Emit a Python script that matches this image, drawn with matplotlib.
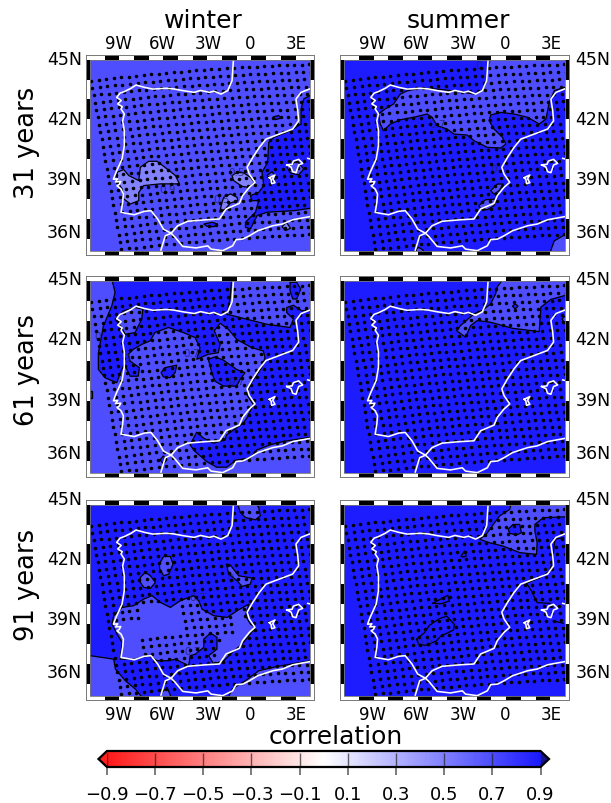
import matplotlib
matplotlib.use('Agg')
import matplotlib.pyplot as plt
import numpy as np
from matplotlib.colors import LinearSegmentedColormap, Normalize
from matplotlib.cm import ScalarMappable
from matplotlib.patches import Polygon, Rectangle
from matplotlib.path import Path

plt.rcParams['font.family'] = 'DejaVu Sans'

# tick labels and positions on the map
lon_labels = ['9W', '6W', '3W', '0', '3E']
lon_ticks = [-8.93, -5.95, -2.87, -0.07, 3.0]
lat_labels = ['45N', '42N', '39N', '36N']
lat_ticks = [44.95, 41.86, 38.73, 35.97]
cbar_ticks = [-0.9, -0.7, -0.5, -0.3, -0.1, 0.1, 0.3, 0.5, 0.7, 0.9]
cbar_labels = ['\u22120.9', '\u22120.7', '\u22120.5', '\u22120.3', '\u22120.1', '0.1', '0.3', '0.5', '0.7', '0.9']
seasons = ['winter', 'summer']
periods = ['31 years', '61 years', '91 years']

# coast lines (lon, lat)
iberia = [(-1.19, 44.86), (-1.28, 43.83), (-1.57, 43.31), (-2.02, 43.13), (-2.50, 43.28), (-2.80, 43.22),
          (-3.40, 43.32), (-3.81, 43.22), (-4.59, 43.31), (-5.20, 43.40), (-5.71, 43.43), (-6.60, 43.39),
          (-7.16, 43.48), (-7.72, 43.60), (-8.06, 43.43), (-8.51, 43.26), (-8.80, 43.18), (-9.02, 42.96),
          (-8.72, 42.80), (-8.95, 42.62), (-8.65, 42.48), (-8.73, 42.36), (-8.51, 42.10), (-8.62, 41.75),
          (-8.51, 41.24), (-8.51, 40.46), (-8.66, 39.77), (-9.07, 39.07), (-9.24, 38.72), (-8.95, 38.74),
          (-9.10, 38.58), (-8.75, 38.60), (-8.85, 38.45), (-9.00, 38.38), (-8.73, 38.21), (-8.57, 37.95),
          (-8.62, 37.52), (-8.73, 37.00), (-7.84, 36.88), (-7.16, 37.06), (-6.72, 37.09), (-6.27, 36.66),
          (-5.89, 36.14), (-5.37, 35.92), (-4.93, 36.31), (-4.26, 36.54), (-3.03, 36.62), (-2.13, 36.66),
          (-1.68, 37.18), (-0.79, 37.47), (-0.57, 37.87), (-0.12, 38.30), (0.26, 38.56), (-0.12, 38.99),
          (-0.27, 39.34), (0.11, 39.85), (0.55, 40.37), (1.00, 40.80), (1.90, 41.06), (2.79, 41.32),
          (3.19, 41.75), (3.13, 42.27), (3.01, 42.87), (3.35, 43.22), (3.91, 43.39)]
africa = [(-6.05, 35.05), (-5.76, 35.79), (-5.37, 35.92), (-5.15, 35.76), (-4.59, 35.24), (-3.70, 35.16),
          (-2.91, 35.27), (-2.69, 35.10), (-1.91, 35.02), (-1.24, 35.27), (-1.01, 35.59), (-0.55, 35.62),
          (-0.12, 35.79), (0.44, 36.05), (1.45, 36.31), (2.10, 36.40), (2.79, 36.62), (3.91, 36.78)]
mallorca = [(2.39, 39.46), (2.75, 39.49), (2.84, 39.66), (3.19, 39.75), (3.46, 39.54), (3.19, 39.46),
            (3.01, 39.06), (2.79, 39.11), (2.68, 39.35), (2.39, 39.46)]
ibiza = [(1.22, 38.80), (1.60, 38.94), (1.45, 38.75), (1.60, 38.54), (1.38, 38.49), (1.34, 38.71), (1.22, 38.80)]
menorca = [(3.80, 39.80), (3.95, 39.77)]

# winter 31
w31_east = [(3.93, 43.05), (3.53, 42.88), (3.35, 42.36), (3.35, 41.58), (2.64, 41.24), (1.52, 40.89),
            (1.18, 40.63), (1.11, 39.60), (0.73, 39.08), (0.85, 38.39), (0.51, 38.04), (-0.05, 37.87),
            (0.06, 37.61), (0.51, 37.61), (0.29, 37.01), (-0.38, 36.49), (-0.38, 36.23), (-0.05, 36.14),
            (0.40, 36.83), (1.07, 37.01), (2.86, 37.09), (3.93, 37.21), (4.6, 37.21), (4.6, 43.05)]
w31_port = [(-9.00, 39.08), (-8.55, 39.22), (-8.21, 38.91), (-7.54, 38.65), (-7.43, 39.34), (-6.87, 39.65),
            (-6.31, 39.65), (-5.64, 39.25), (-5.08, 38.91), (-4.81, 38.48), (-6.09, 38.48), (-7.21, 38.39),
            (-7.54, 38.04), (-7.54, 37.61), (-8.10, 37.44), (-8.55, 37.70), (-8.66, 38.22), (-8.95, 38.56)]
w31_val = [(-1.28, 38.91), (-0.94, 39.08), (-0.50, 39.05), (-0.05, 38.82), (0.22, 38.56), (-0.16, 38.30),
           (-0.61, 38.35), (-1.17, 38.65)]
w31_mur = [(-1.84, 37.78), (-1.39, 37.96), (-0.94, 37.78), (-0.90, 37.61), (-1.39, 37.49), (-1.73, 37.18),
           (-2.11, 37.01), (-1.95, 37.53)]
w31_alb = [(-3.18, 36.40), (-2.62, 36.49), (-2.24, 36.40), (-2.51, 36.26), (-2.96, 36.28)]
w31_cat = [(1.47, 41.95), (1.85, 42.02), (2.01, 41.88), (1.63, 41.81)]
w31_alg = [(2.08, 36.26), (2.37, 36.49), (2.64, 36.18), (2.30, 36.06)]
w31_mal = [(2.41, 39.34), (3.08, 39.68), (3.53, 39.25), (3.19, 38.94), (2.63, 39.05)]
w31_ibi = [(1.07, 38.91), (1.40, 39.11), (1.70, 38.82), (1.40, 38.56)]

# summer 31
s31_north = [(-1.19, 45.2), (-1.19, 44.91), (-1.28, 43.83), (-1.57, 43.31), (-2.13, 43.13), (-3.14, 43.26),
             (-4.59, 43.39), (-5.71, 43.43), (-6.56, 43.31), (-7.05, 43.13), (-7.50, 42.62), (-8.06, 42.36),
             (-8.51, 42.10), (-8.39, 41.58), (-8.17, 41.23), (-7.72, 41.58), (-7.05, 41.80), (-6.16, 41.93),
             (-5.26, 42.10), (-4.93, 41.93), (-4.59, 41.49), (-3.92, 41.32), (-3.47, 41.06), (-2.58, 41.01),
             (-2.13, 40.72), (-1.24, 40.37), (-0.34, 40.34), (0.00, 40.54), (-0.23, 40.89), (-0.79, 41.32),
             (-1.12, 41.75), (-1.01, 42.05), (-0.34, 42.18), (0.55, 42.10), (1.45, 41.93), (2.23, 41.58),
             (2.68, 41.84), (2.90, 42.70), (3.24, 43.31), (3.91, 43.48), (4.6, 43.48), (4.6, 45.2)]
s31_val = [(-1.01, 38.13), (-0.57, 38.47), (-0.16, 38.47), (-0.45, 38.13), (-0.79, 37.95)]
s31_mur = [(-1.80, 37.35), (-1.35, 37.66), (-0.68, 37.69), (-0.79, 37.35), (-1.24, 37.14), (-1.68, 37.18)]
s31_alg = [(3.01, 34.6), (3.01, 35.05), (3.24, 35.53), (3.91, 35.83), (4.6, 35.83), (4.6, 34.6)]
s31_mor = [(-5.98, 34.8), (-5.98, 35.10), (-5.82, 35.19), (-5.53, 35.05), (-5.53, 34.8)]

# winter 61
w61_band = [(-9.35, 45.00), (-9.13, 44.31), (-9.35, 43.62), (-9.91, 42.58), (-10.25, 41.20), (-10.25, 40.34),
            (-9.80, 39.91), (-9.02, 39.65), (-8.68, 40.34), (-8.50, 40.60), (-8.12, 39.99), (-7.57, 39.99),
            (-7.50, 40.43), (-8.12, 40.77), (-8.24, 41.12), (-7.90, 41.38), (-7.34, 41.63), (-6.78, 41.81),
            (-6.45, 42.24), (-5.55, 42.50), (-4.55, 42.24), (-3.76, 41.98), (-3.43, 41.46), (-3.65, 40.86),
            (-2.87, 41.12), (-2.20, 41.20), (-2.08, 41.63), (-2.47, 42.33), (-2.08, 42.72), (-1.53, 42.41),
            (-0.97, 41.89), (0.04, 41.46), (0.82, 41.29), (0.93, 40.94), (0.71, 40.43), (-0.07, 39.56),
            (-0.29, 39.04), (0.15, 38.53), (-0.29, 37.83), (-0.52, 37.58), (-1.64, 36.97), (-1.75, 36.71),
            (-2.53, 36.54), (-3.20, 36.80), (-3.65, 37.11), (-4.10, 36.45), (-3.76, 36.11), (-2.98, 35.59),
            (-2.31, 35.30), (-1.64, 35.30), (-0.97, 35.68), (-0.07, 35.76), (0.38, 36.19), (1.27, 36.45),
            (2.17, 36.63), (4.40, 36.89), (4.40, 45.00)]
w61_ne = [(-1.30, 45.00), (-1.41, 43.97), (-1.64, 43.19), (-0.30, 42.93), (1.05, 42.67), (2.61, 42.50),
          (2.84, 42.93), (2.39, 43.27), (2.39, 43.53), (2.84, 43.65), (3.40, 43.36), (4.40, 43.45), (4.40, 45.00)]
w61_gal = [(-9.13, 42.93), (-8.57, 43.36), (-7.79, 43.53), (-7.27, 43.45), (-7.34, 42.93), (-7.79, 42.24),
           (-8.46, 42.15), (-8.68, 42.50)]
w61_top = [(2.61, 44.83), (3.06, 44.83), (3.33, 44.48), (3.06, 43.97), (2.79, 43.97), (2.61, 44.40)]
w61_mid = [(-6.04, 40.17), (-5.78, 40.43), (-4.99, 40.56), (-5.10, 40.17), (-5.44, 39.91), (-5.89, 39.96)]
w61_tur = [(-2.87, 40.86), (-2.42, 40.99), (-1.86, 40.82), (-0.97, 40.34), (-0.41, 40.17), (-0.74, 39.82),
           (-0.97, 39.48), (-1.86, 39.48), (-2.42, 39.73), (-2.64, 40.17)]
w61_west = [(-10.90, 39.22), (-10.67, 39.22), (-10.67, 38.87), (-10.90, 38.87)]
w61_mor = [(-6.11, 35.68), (-5.89, 35.88), (-5.66, 35.68), (-5.89, 35.47)]

# summer 61
s61_ne = [(-0.16, 45.02), (-0.57, 44.59), (-0.68, 44.24), (-1.01, 43.72), (-1.57, 43.38), (-2.13, 43.20),
          (-3.03, 42.60), (-3.29, 42.34), (-2.69, 42.00), (-2.35, 42.60), (-1.91, 42.86), (-1.01, 42.77),
          (0.44, 42.46), (2.23, 42.29), (2.34, 43.55), (3.01, 43.95), (4.13, 44.19), (4.13, 45.02)]
s61_dot = [(0.44, 43.60), (0.62, 43.72), (0.82, 43.60), (0.62, 43.46)]
s61_cap = [(3.75, 42.94), (3.95, 43.08), (4.13, 42.94), (3.95, 42.68)]

# winter 91
w91_center = [(-9.33, 38.73), (-9.22, 39.16), (-8.66, 39.59), (-7.88, 39.68), (-7.21, 40.02), (-6.65, 40.20),
              (-6.09, 39.85), (-5.42, 39.59), (-4.75, 39.94), (-3.85, 40.20), (-3.52, 39.94), (-3.29, 39.50),
              (-2.51, 39.16), (-1.61, 39.07), (-0.94, 39.42), (-0.16, 39.76), (-0.38, 39.16), (-0.05, 38.73),
              (0.29, 38.55), (-0.61, 37.69), (-1.28, 37.26), (-1.84, 36.83), (-2.51, 36.66), (-2.85, 37.09),
              (-2.29, 37.43), (-2.29, 38.04), (-2.73, 38.26), (-3.18, 37.95), (-3.18, 37.52), (-3.74, 37.17),
              (-4.08, 37.09), (-4.19, 36.57), (-5.08, 36.91), (-5.53, 36.83), (-6.31, 36.83), (-6.87, 37.09),
              (-7.88, 36.91), (-8.77, 36.91), (-8.66, 37.78), (-8.99, 38.21)]
w91_sw = [(-10.79, 37.09), (-9.22, 36.91), (-9.11, 36.40), (-8.44, 35.79), (-7.77, 35.36), (-7.32, 34.93),
          (-11.46, 34.67), (-11.46, 37.09)]
w91_se = [(-1.62, 34.76), (-1.28, 35.36), (-0.38, 35.79), (0.51, 36.31), (1.74, 36.53), (3.98, 36.83),
          (4.87, 36.83), (4.87, 34.67)]
w91_top = [(-0.94, 45.03), (-0.72, 44.51), (-0.38, 44.25), (0.29, 44.13), (0.62, 44.34), (0.51, 44.77), (0.29, 45.03)]
w91_a = [(-6.16, 41.84), (-5.87, 42.23), (-5.42, 42.23), (-5.24, 41.84), (-5.53, 41.32), (-5.87, 41.23), (-6.13, 41.58)]
w91_b = [(-7.43, 41.15), (-7.10, 41.40), (-6.76, 41.23), (-6.42, 40.89), (-6.76, 40.58), (-7.21, 40.63), (-7.43, 40.89)]
w91_c = [(-1.66, 41.84), (-1.39, 41.78), (-0.83, 41.23), (0.06, 41.11), (-0.05, 40.80), (-0.61, 40.68),
         (-0.94, 40.97), (-1.50, 41.32)]
w91_mor = [(-5.98, 35.19), (-5.64, 35.45), (-5.31, 34.84), (-6.09, 34.84)]
w91_gap_west = [(-9.44, 38.81), (-7.43, 38.78), (-7.43, 39.76), (-4.86, 39.76), (-4.86, 38.16), (-7.43, 38.16),
                (-7.54, 37.00), (-9.00, 37.00)]
w91_gap_east = [(-0.94, 39.42), (0.40, 38.64), (-0.61, 37.60), (-2.06, 37.09), (-2.29, 37.60), (-2.06, 38.12), (-0.94, 38.12)]
w91_gap_se = [(-1.62, 35.45), (4.42, 35.53), (4.42, 34.67), (-1.62, 34.67)]

# summer 91
s91_ne = [(0.37, 45.02), (0.26, 44.67), (-0.41, 44.33), (-0.75, 43.98), (-1.31, 43.38), (-1.75, 43.12),
          (-1.08, 42.94), (-0.19, 42.77), (0.93, 42.43), (2.05, 42.34), (2.09, 42.94), (1.94, 43.55),
          (1.94, 43.89), (2.50, 44.24), (4.06, 44.29), (4.06, 45.02)]
s91_dot = [(0.15, 43.64), (0.48, 43.89), (0.93, 43.89), (1.04, 43.46), (0.71, 43.34), (0.26, 43.43)]
s91_east_n = [(3.84, 43.20), (3.28, 43.12), (3.12, 42.08), (2.94, 41.48), (2.27, 41.13), (1.38, 40.84),
              (1.71, 40.44), (2.09, 39.84), (2.94, 39.80)]
s91_east_s = [(3.17, 38.89), (3.84, 38.77)]
s91_blob = [(-5.96, 37.94), (-5.44, 38.28), (-5.11, 38.66), (-4.44, 39.01), (-3.95, 39.14), (-3.43, 38.71),
            (-3.50, 38.42), (-4.33, 38.11), (-4.66, 37.85), (-5.33, 37.63), (-5.82, 37.68), (-5.96, 37.94)]
s91_thin = [(-4.89, 39.80), (-3.88, 40.22), (-3.77, 39.92), (-4.33, 39.78), (-4.89, 39.80)]
s91_small = [(-2.98, 42.25), (-2.76, 42.51), (-2.65, 42.25), (-2.87, 42.20), (-2.98, 42.25)]

# correlation band of each filled area, in drawing order
panels = [
    [dict(base=0.6,
          fills=[(0.8, w31_east), (0.4, w31_port), (0.4, w31_val), (0.4, w31_mur), (0.8, w31_alb),
                 (0.8, w31_cat), (0.4, w31_alg), (0.6, w31_mal), (0.6, w31_ibi)],
          lines=[], gaps=[],
          labels=[('0.5', -0.94, 39.11), ('0.5', -1.95, 37.70), ('0.9', -5.60, 38.22)]),
     dict(base=0.8,
          fills=[(0.6, s31_north), (0.6, s31_val), (0.6, s31_mur), (0.6, s31_alg), (0.6, s31_mor)],
          lines=[], gaps=[],
          labels=[('0.7', -4.55, 41.58), ('0.7', -1.46, 44.65), ('0', -0.79, 39.25)])],
    [dict(base=0.6,
          fills=[(0.8, w61_band), (0.6, w61_ne), (0.6, w61_gal), (0.8, w61_top), (0.8, w61_mid),
                 (0.8, w61_tur), (0.8, w61_west), (0.8, w61_mor)],
          lines=[], gaps=[],
          labels=[('0.7', -3.99, 41.20), ('0.7', -0.97, 39.73), ('0', -10.32, 42.07), ('0', -8.35, 40.94)]),
     dict(base=0.8,
          fills=[(0.6, s61_ne), (0.8, s61_dot), (0.6, s61_cap)],
          lines=[], gaps=[], labels=[])],
    [dict(base=0.8,
          fills=[(0.6, w91_center), (0.6, w91_sw), (0.6, w91_se), (0.6, w91_top), (0.6, w91_a),
                 (0.6, w91_b), (0.6, w91_c), (0.6, w91_mor)],
          lines=[], gaps=[w91_gap_west, w91_gap_east, w91_gap_se],
          labels=[('0.7', -3.58, 40.11), ('0.7', -3.90, 37.35), ('0', -1.39, 41.09)]),
     dict(base=0.8,
          fills=[(0.6, s91_ne), (0.8, s91_dot)],
          lines=[s91_east_n, s91_east_s, s91_blob, s91_thin, s91_small], gaps=[],
          labels=[('0.9', -5.44, 37.76)])],
]

fig_w, fig_h = 611, 804
col_px = [(86, 314), (340, 569)]
row_px = [(56, 256), (277, 478), (501, 701)]
row_lat_shift = [0.0, 0.05, 0.26]
label_y = [0.565, 0.537, 0.58]
xlim = (-11.08, 4.22)
ylim = (34.795, 45.155)
west, east, south, north = -10.81, 3.95, 35.02, 44.91

cmap = LinearSegmentedColormap.from_list('rwb', ['#ff1a1a', '#ffffff', '#1a1aff'], N=256)
norm = Normalize(-0.9, 0.9)
cmap.set_under('#ff2020')
cmap.set_over('#141490')

# stippling sits on the regional model grid, which is rotated against the map
ii, jj = np.meshgrid(np.arange(31), np.arange(24))
dot_lon = -10.74 + ii * 0.505 + jj * 0.088
dot_lat = 43.83 - jj * 0.38 + ii * 0.045 - ii ** 2 * 0.00055


def to_axes(left, right, top, bottom):
    return [left / fig_w, 1 - bottom / fig_h, (right - left) / fig_w, (bottom - top) / fig_h]


def band_color(val):
    # a band is filled with the colour near its upper limit
    return cmap(norm(val + 0.09))


def draw_frame(ax):
    # black and white bar round the map
    xs = np.arange(west, east, 0.985)
    for k, x0 in enumerate(xs):
        c = 'white' if k % 2 == 0 else 'black'
        w = min(0.985, east - x0)
        ax.add_patch(Rectangle((x0, north), w, ylim[1] - north, fc=c, ec='none', zorder=6))
        ax.add_patch(Rectangle((x0, ylim[0]), w, south - ylim[0], fc=c, ec='none', zorder=6))
    ys = np.arange(north, south, -1.03)
    for k, y0 in enumerate(ys):
        c = 'black' if k % 2 == 0 else 'white'
        h = min(1.03, y0 - south)
        ax.add_patch(Rectangle((xlim[0], y0 - h), west - xlim[0], h, fc=c, ec='none', zorder=6))
        ax.add_patch(Rectangle((east, y0 - h), xlim[1] - east, h, fc=c, ec='none', zorder=6))
    ax.add_patch(Rectangle((west, south), east - west, north - south, fc='none', ec='#777777', lw=0.6, zorder=7))
    for s in ax.spines.values():
        s.set_color('#777777')
        s.set_linewidth(0.7)
        s.set_zorder(8)


def draw_panel(ax, p, row, col):
    ax.set_xlim(xlim)
    ax.set_ylim(ylim)
    domain = Rectangle((west, south), east - west, north - south, fc=band_color(p['base']), ec='none', zorder=1)
    ax.add_patch(domain)

    for val, pts in p['fills']:
        poly = Polygon(pts, closed=True, fc=band_color(val), ec='black', lw=0.9, zorder=2)
        ax.add_patch(poly)
        poly.set_clip_path(domain)
    for pts in p['lines']:
        xy = np.array(pts)
        ln, = ax.plot(xy[:, 0], xy[:, 1], color='black', lw=0.9, zorder=3)
        ln.set_clip_path(domain)

    keep = np.ones(dot_lon.shape, dtype=bool)
    pts = np.column_stack([dot_lon.ravel(), dot_lat.ravel()])
    for gap in p['gaps']:
        keep &= ~Path(gap).contains_points(pts).reshape(dot_lon.shape)
    dots = ax.scatter(dot_lon[keep], dot_lat[keep], s=6.5, c='black', marker='o', linewidths=0, zorder=4)
    dots.set_clip_path(domain)

    for txt, x, y in p['labels']:
        ax.text(x, y, txt, color='#20206a', fontsize=7.5, ha='center', va='center', zorder=3, alpha=0.8)

    for coast in [iberia, africa, mallorca, ibiza, menorca]:
        xy = np.array(coast)
        ln, = ax.plot(xy[:, 0], xy[:, 1], color='white', lw=1.15, zorder=5)
        ln.set_clip_path(domain)

    draw_frame(ax)

    ax.set_yticks([])
    if row == 0 or row == 2:
        ax.set_xticks(lon_ticks)
        ax.set_xticklabels(lon_labels, fontsize=12)
    else:
        ax.set_xticks([])
    if row == 0:
        ax.xaxis.tick_top()
        ax.tick_params(axis='x', length=0, pad=2)
        ax.set_title(seasons[col], fontsize=18, pad=20, x=0.515)
    else:
        ax.tick_params(axis='x', length=0, pad=3.5)

    trans = ax.get_yaxis_transform()
    for lab, lat in zip(lat_labels, lat_ticks):
        y = lat + row_lat_shift[row]
        if col == 0:
            ax.text(-0.017, y, lab, transform=trans, ha='right', va='center', fontsize=12.5)
        else:
            ax.text(1.028, y, lab, transform=trans, ha='left', va='center', fontsize=12.5)
    if col == 0:
        ax.text(-0.26, label_y[row], periods[row], transform=ax.transAxes, rotation=90,
                ha='center', va='center', fontsize=18.5)


fig = plt.figure(figsize=(fig_w / 100, fig_h / 100), dpi=100)
for r, (top, bottom) in enumerate(row_px):
    for c, (left, right) in enumerate(col_px):
        ax = fig.add_axes(to_axes(left, right, top, bottom))
        draw_panel(ax, panels[r][c], r, c)

cax = fig.add_axes(to_axes(98.5, 549, 752, 768))
cb = fig.colorbar(ScalarMappable(norm=norm, cmap=cmap), cax=cax, orientation='horizontal',
                  extend='both', extendfrac=0.0196, ticks=cbar_ticks)
cb.ax.set_xticklabels(cbar_labels, fontsize=13)
cb.ax.tick_params(length=6, width=1.2, color='#666666', pad=7)
cb.ax.minorticks_off()
cb.outline.set_linewidth(1.6)
cb.ax.vlines(cbar_ticks, -0.9, 0.9, color='#222222', lw=1.0, alpha=0.7)
fig.text(336 / fig_w, 1 - 737 / fig_h, 'correlation', fontsize=18, ha='center', va='center')

fig.savefig('out.png', dpi=100)
